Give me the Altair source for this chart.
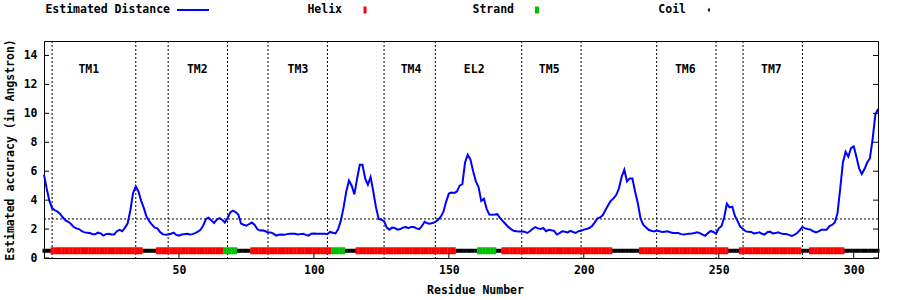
import altair as alt
import pandas as pd

# ---------------- data ----------------
distance = [
    5.76, 4.8, 3.95, 3.45, 3.3, 3.2, 3.05, 2.8, 2.6, 2.5,
    2.35, 2.15, 2.05, 2.0, 1.85, 1.77, 1.75, 1.73, 1.65, 1.65,
    1.75, 1.7, 1.55, 1.65, 1.68, 1.62, 1.62, 1.85, 1.95, 1.85,
    2.1, 2.4, 3.3, 4.5, 4.95, 4.6, 3.95, 3.45, 2.85, 2.55,
    2.3, 2.1, 2.05, 1.8, 1.65, 1.6, 1.62, 1.68, 1.75, 1.6,
    1.55, 1.62, 1.65, 1.68, 1.62, 1.65, 1.72, 1.82, 1.95, 2.25,
    2.7, 2.78, 2.6, 2.42, 2.65, 2.76, 2.65, 2.45, 2.75, 3.15,
    3.27, 3.18, 3.0, 2.38, 2.3, 2.23, 2.35, 2.45, 2.3, 2.0,
    1.9, 1.92, 1.85, 1.77, 1.77, 1.68, 1.55, 1.6, 1.62, 1.6,
    1.65, 1.68, 1.67, 1.68, 1.62, 1.65, 1.68, 1.6, 1.55, 1.68,
    1.7, 1.68, 1.68, 1.68, 1.68, 1.65, 1.8, 1.75, 1.7, 2.0,
    2.6, 3.5, 4.6, 5.35, 5.0, 4.4, 5.5, 6.45, 6.45, 5.5,
    5.07, 5.6, 4.6, 3.5, 2.7, 2.65, 2.55, 2.1, 1.96, 2.1,
    2.07, 1.96, 2.0, 2.1, 2.14, 2.07, 2.15, 2.14, 2.05, 2.0,
    2.2, 2.5, 2.4, 2.37, 2.42, 2.5, 2.65, 2.85, 3.2, 3.9,
    4.45, 4.52, 4.5, 4.6, 5.0, 5.1, 6.6, 7.14, 6.8, 6.0,
    5.3, 4.9, 3.95, 4.1, 3.4, 3.0, 2.99, 3.0, 3.03, 2.75,
    2.55, 2.35, 2.15, 2.0, 1.88, 1.85, 1.84, 1.84, 1.82, 1.73,
    1.85, 2.0, 2.14, 2.05, 2.0, 2.07, 1.85, 1.95, 1.92, 1.88,
    1.62, 1.72, 1.85, 1.82, 1.77, 1.88, 1.8, 1.73, 1.85, 1.88,
    1.96, 2.0, 2.07, 2.2, 2.45, 2.72, 2.8, 2.95, 3.3, 3.65,
    3.95, 4.12, 4.35, 4.8, 5.6, 6.1, 5.3, 5.5, 5.5, 4.6,
    3.8, 2.75, 2.3, 2.12, 1.95, 1.88, 1.84, 1.9, 1.85, 1.8,
    1.82, 1.84, 1.78, 1.73, 1.73, 1.73, 1.65, 1.62, 1.65, 1.68,
    1.7, 1.73, 1.77, 1.72, 1.62, 1.54, 1.72, 1.87, 1.8, 1.68,
    2.05, 2.2, 2.8, 3.75, 3.5, 3.55, 2.9, 2.55, 2.15, 2.0,
    1.84, 1.82, 1.8, 1.7, 1.72, 1.77, 1.68, 1.62, 1.78, 1.82,
    1.7, 1.72, 1.77, 1.7, 1.66, 1.66, 1.6, 1.52, 1.6, 1.73,
    1.92, 2.15, 2.05, 2.0, 1.96, 1.85, 1.77, 1.84, 1.95, 1.96,
    1.96, 2.2, 2.28, 2.45, 3.1, 4.8, 6.6, 7.35, 7.0, 7.6,
    7.72, 7.0, 6.2, 5.8, 6.15, 6.6, 6.9, 8.2, 9.9, 10.3,
]
residue = list(range(len(distance)))

# secondary structure segments: (type, first residue, last residue)
ss_segments = [
    ("C", 0, 2), ("H", 3, 36), ("C", 37, 41), ("H", 42, 66), ("E", 67, 71),
    ("C", 72, 76), ("H", 77, 106), ("E", 107, 111), ("C", 112, 115),
    ("H", 116, 152), ("C", 153, 160), ("E", 161, 167), ("C", 168, 169),
    ("H", 170, 210), ("C", 211, 220), ("H", 221, 253), ("C", 254, 257),
    ("H", 258, 280), ("C", 281, 283), ("H", 284, 296), ("C", 297, 309),
]
ss_level = 0.5

boundaries = [3, 34, 46, 68, 83, 105, 126, 145, 177, 199, 227, 249, 259, 281]
region_names = ["TM1", "TM2", "TM3", "TM4", "EL2", "TM5", "TM6", "TM7"]
region_pos = [16.6, 56.8, 94.1, 136.0, 159.4, 187.2, 237.6, 269.5]
region_y = 13

threshold = 2.7
y_ticks = [0, 2, 4, 6, 8, 10, 12, 14]
x_ticks = [50, 100, 150, 200, 250, 300]

legend_labels = ["Estimated Distance", "Helix", "Strand", "Coil"]

# ---------------- build tables ----------------
df_line = pd.DataFrame({"residue": residue, "distance": distance})
ss_rows = []
for t, a, b in ss_segments:
    for r in range(a, b + 1):
        ss_rows.append({"residue": r, "type": t, "y": ss_level})
df_ss = pd.DataFrame(ss_rows)
df_bound = pd.DataFrame({"b": boundaries})
df_regions = pd.DataFrame({"name": region_names, "x": region_pos, "y": [region_y] * len(region_names)})
df_thr = pd.DataFrame({"t": [threshold]})
df_yt = pd.DataFrame({"v": y_ticks})
df_xt = pd.DataFrame({"v": x_ticks})

W, H = 834, 217
FONT = "DejaVu Sans Mono"
FS = 11.5

xs = alt.Scale(domain=[0, 309], nice=False, zero=False)
ys = alt.Scale(domain=[0, 15], nice=False)

x_axis = alt.Axis(values=x_ticks, ticks=False, tickSize=0, domain=False, grid=False,
                  labelOverlap=False, labelFlush=False,
                  labelFont=FONT, labelFontSize=FS, labelFontWeight="bold", labelColor="black",
                  labelPadding=6, title="Residue Number", titleFont=FONT, titleFontSize=FS,
                  titleFontWeight="bold", titleColor="black", titleX=431, titleY=32,
                  titleBaseline="middle", titleAlign="center")
y_axis = alt.Axis(values=y_ticks, ticks=False, tickSize=0, domain=False, grid=False,
                  labelOverlap=False, labelFlush=False,
                  labelFont=FONT, labelFontSize=FS, labelFontWeight="bold", labelColor="black",
                  labelPadding=7, title="Estimated accuracy (in Angstron)", titleFont=FONT,
                  titleFontSize=FS, titleFontWeight="bold", titleColor="black",
                  titleX=-34, titleY=H / 2, titleAngle=-90, titleBaseline="middle", titleAlign="center")


def X(field):
    return alt.X(field, type="quantitative", scale=xs, axis=x_axis)


def Y(field):
    return alt.Y(field, type="quantitative", scale=ys, axis=y_axis)


vlines = alt.Chart(df_bound).mark_rule(color="black", strokeWidth=1, strokeDash=[2, 2]).encode(x=X("b"))
hline = alt.Chart(df_thr).mark_rule(color="black", strokeWidth=1, strokeDash=[2, 2]).encode(y=Y("t"))
labels = alt.Chart(df_regions).mark_text(font=FONT, fontSize=FS, fontWeight="bold", color="black",
                                         baseline="middle", align="center").encode(
    x=X("x"), y=Y("y"), text="name:N"
)
line = alt.Chart(df_line).mark_line(color="#0000ff", strokeWidth=2).encode(x=X("residue"), y=Y("distance"))


def ss_layer(t, color, size, thick):
    return alt.Chart(df_ss[df_ss["type"] == t]).mark_tick(
        color=color, orient="vertical", size=size, thickness=thick, opacity=1
    ).encode(x=X("residue"), y=Y("y"))


coil = ss_layer("C", "black", 4, 3)
helix = ss_layer("H", "#ff0000", 7, 3)
strand = ss_layer("E", "#00c000", 7, 3)

# inward tick marks (gnuplot style)
tick_left = alt.Chart(df_yt).mark_rule(color="black").encode(y=Y("v"), x=alt.value(0), x2=alt.value(5))
tick_right = alt.Chart(df_yt).mark_rule(color="black").encode(y=Y("v"), x=alt.value(W), x2=alt.value(W - 5))
tick_bottom = alt.Chart(df_xt).mark_rule(color="black").encode(x=X("v"), y=alt.value(H), y2=alt.value(H - 5))

# key above the plot (gnuplot style: text, then sample)
LY = -31
step = 172
leg = []
for k, lab in enumerate(legend_labels):
    leg.append(alt.Chart(df_thr).mark_text(text=lab, font=FONT, fontSize=FS, fontWeight="bold",
                                           color="black", align="right", baseline="middle").encode(
        x=alt.value(126 + step * k), y=alt.value(LY)))
cx = [149 + step * k for k in range(4)]
leg.append(alt.Chart(df_thr).mark_rule(color="#0000ff", strokeWidth=2).encode(
    x=alt.value(cx[0] - 16), x2=alt.value(cx[0] + 16), y=alt.value(LY)))
leg.append(alt.Chart(df_thr).mark_rect(color="#ff0000").encode(
    x=alt.value(cx[1] - 1.5), x2=alt.value(cx[1] + 1.5), y=alt.value(LY - 3.5), y2=alt.value(LY + 3.5)))
leg.append(alt.Chart(df_thr).mark_rect(color="#00c000").encode(
    x=alt.value(cx[2] - 2), x2=alt.value(cx[2] + 2), y=alt.value(LY - 3.5), y2=alt.value(LY + 3.5)))
leg.append(alt.Chart(df_thr).mark_point(shape="M0,-1L0.45,0L0,1L-0.45,0Z", filled=True, color="black",
                                        size=25, opacity=1).encode(
    x=alt.value(cx[3]), y=alt.value(LY)))

chart = alt.layer(
    vlines, hline, labels, line, coil, helix, strand, tick_left, tick_right, tick_bottom, *leg
).properties(
    width=W, height=H,
    autosize=alt.AutoSizeParams(type="none"),
    padding={"left": 44, "top": 41, "right": 22, "bottom": 42},
    background="white",
).configure_view(stroke="black", strokeWidth=1)

chart.save("out.html", embed_options={"renderer": "svg", "actions": False})
